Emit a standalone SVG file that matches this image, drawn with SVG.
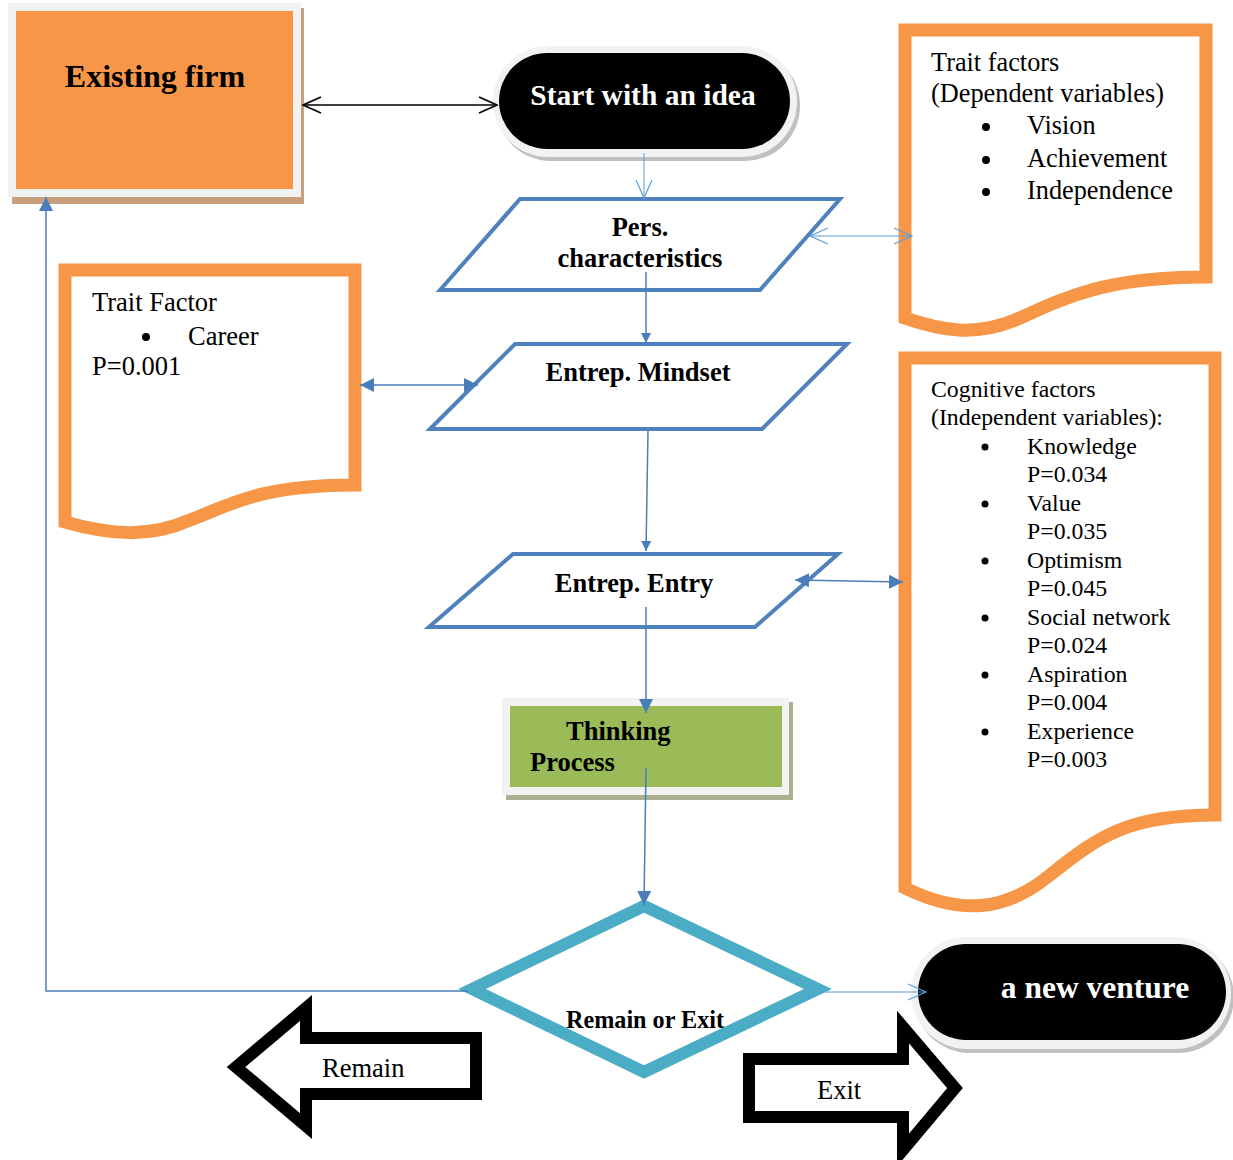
<svg xmlns="http://www.w3.org/2000/svg" width="1233" height="1160" viewBox="0 0 1233 1160">
<style>
.t{font-family:"Liberation Serif","Times New Roman",serif;fill:#000}
.b{font-weight:bold}
.w{fill:#fff}
.doc{fill:#fff;stroke:#f79646;stroke-width:13;stroke-linejoin:miter}
.para{fill:#fff;stroke:#4f81bd;stroke-width:4}
.c1{fill:none;stroke:#4a7ebb;stroke-width:1.5}
.c2{fill:none;stroke:#5b9bd5;stroke-width:1}
.c3{fill:none;stroke:#000;stroke-width:1.5}
.blk{fill:#fff;stroke:#000;stroke-width:12;stroke-linejoin:miter}
</style>
<defs>
<marker id="tri" viewBox="0 0 10 10" refX="10" refY="5" markerWidth="10" markerHeight="10" markerUnits="userSpaceOnUse" orient="auto-start-reverse"><path d="M0,0 L10,5 L0,10 Z" fill="#4a7ebb"/></marker>
<marker id="tri2" viewBox="0 0 10 10" refX="10" refY="5" markerWidth="14" markerHeight="14" markerUnits="userSpaceOnUse" orient="auto-start-reverse"><path d="M0,0 L10,5 L0,10 Z" fill="#4a7ebb"/></marker>
<marker id="open" viewBox="0 0 20 20" refX="19" refY="10" markerWidth="20" markerHeight="20" markerUnits="userSpaceOnUse" orient="auto-start-reverse"><path d="M1,2 L19,10 L1,18" fill="none" stroke="#5b9bd5" stroke-width="1.2"/></marker>
<marker id="openk" viewBox="0 0 20 20" refX="19" refY="10" markerWidth="20" markerHeight="20" markerUnits="userSpaceOnUse" orient="auto-start-reverse"><path d="M1,2 L19,10 L1,18" fill="none" stroke="#000" stroke-width="1.6"/></marker>
</defs>

<g id="existing-firm">
<rect x="12" y="8" width="292" height="196" fill="#c9a07e"/>
<rect x="8" y="3" width="293" height="194" fill="#f2f2f2"/>
<rect x="16" y="11" width="277" height="178" fill="#f79646"/>
<text class="t b" x="155" y="87" font-size="32" text-anchor="middle">Existing firm</text>
</g>

<g id="start">
<rect x="496" y="50" width="304" height="111" rx="55" fill="#c0c0c0"/>
<rect x="493" y="46" width="304" height="111" rx="55" fill="#f2f2f2"/>
<rect x="499" y="53" width="291" height="96" rx="48" fill="#000"/>
<text class="t b w" x="643" y="105" font-size="29.5" text-anchor="middle">Start with an idea</text>
</g>

<g id="pers">
<polygon class="para" points="440,290 520,199 840,199 760,290"/>
<text class="t b" x="640" y="236" font-size="26.5" text-anchor="middle">Pers.</text>
<text class="t b" x="640" y="267" font-size="26.5" text-anchor="middle">characteristics</text>
</g>

<g id="trait-factors">
<path class="doc" d="M905,30 L1206,30 L1206,277 C1110,277 1070,295 1020,318 C975,338 940,330 905,318 Z"/>
<text class="t" x="931" y="71" font-size="26.3">Trait factors</text>
<text class="t" x="931" y="102" font-size="26.3">(Dependent variables)</text>
<circle cx="986" cy="127" r="4"/>
<text class="t" x="1027" y="134" font-size="26.3">Vision</text>
<circle cx="986" cy="160" r="4"/>
<text class="t" x="1027" y="167" font-size="26.3">Achievement</text>
<circle cx="986" cy="192" r="4"/>
<text class="t" x="1027" y="199" font-size="26.3">Independence</text>
</g>

<g id="trait-factor">
<path class="doc" d="M65,270 L355,270 L355,485 C260,485 230,505 190,520 C150,538 110,535 65,522 Z"/>
<text class="t" x="92" y="311" font-size="26.5">Trait Factor</text>
<circle cx="146" cy="337" r="4"/>
<text class="t" x="188" y="345" font-size="26.5">Career</text>
<text class="t" x="92" y="375" font-size="26.5">P=0.001</text>
</g>

<g id="mindset">
<polygon class="para" points="430,429 515,344 847,344 762,429"/>
<text class="t b" x="638" y="381" font-size="26.5" text-anchor="middle">Entrep. Mindset</text>
</g>

<g id="entry">
<polygon class="para" points="429,627 513,554 838,554 755,627"/>
<text class="t b" x="634" y="592" font-size="26.5" text-anchor="middle">Entrep. Entry</text>
</g>

<g id="cognitive-factors">
<path class="doc" d="M905,358 L1215,358 L1215,815 C1130,815 1100,835 1050,875 C1005,912 960,915 905,888 Z"/>
<text class="t" x="931" y="397" font-size="23.8">Cognitive factors</text>
<text class="t" x="931" y="425" font-size="23.8">(Independent variables):</text>
<circle cx="985" cy="447" r="3.5"/>
<text class="t" x="1027" y="454" font-size="23.8">Knowledge</text>
<text class="t" x="1027" y="482" font-size="23.8">P=0.034</text>
<circle cx="985" cy="504" r="3.5"/>
<text class="t" x="1027" y="511" font-size="23.8">Value</text>
<text class="t" x="1027" y="539" font-size="23.8">P=0.035</text>
<circle cx="985" cy="561" r="3.5"/>
<text class="t" x="1027" y="568" font-size="23.8">Optimism</text>
<text class="t" x="1027" y="596" font-size="23.8">P=0.045</text>
<circle cx="985" cy="618" r="3.5"/>
<text class="t" x="1027" y="625" font-size="23.8">Social network</text>
<text class="t" x="1027" y="653" font-size="23.8">P=0.024</text>
<circle cx="985" cy="675" r="3.5"/>
<text class="t" x="1027" y="682" font-size="23.8">Aspiration</text>
<text class="t" x="1027" y="710" font-size="23.8">P=0.004</text>
<circle cx="985" cy="732" r="3.5"/>
<text class="t" x="1027" y="739" font-size="23.8">Experience</text>
<text class="t" x="1027" y="767" font-size="23.8">P=0.003</text>
</g>

<g id="thinking">
<rect x="506" y="702" width="287" height="98" fill="#a8b090"/>
<rect x="502" y="698" width="287" height="97" fill="#f2f2f2"/>
<rect x="510" y="706" width="272" height="81" fill="#9bbb59"/>
<text class="t b" x="566" y="740" font-size="26.5">Thinking</text>
<text class="t b" x="530" y="771" font-size="26.5">Process</text>
</g>

<g id="decision">
<polygon points="644,906 818,989 644,1072 472,989" fill="#fff" stroke="#4bacc6" stroke-width="12"/>
<text class="t b" x="645" y="1028" font-size="24.2" text-anchor="middle">Remain or Exit</text>
</g>

<g id="new-venture">
<rect x="914" y="941" width="320" height="112" rx="56" fill="#c0c0c0"/>
<rect x="911" y="937" width="320" height="112" rx="56" fill="#f2f2f2"/>
<rect x="918" y="944" width="308" height="96" rx="48" fill="#000"/>
<text class="t b w" x="1095" y="998" font-size="31.5" text-anchor="middle">a new venture</text>
</g>

<g id="remain">
<path class="blk" d="M236,1067 L306,1008 L306,1038 L476,1038 L476,1094 L306,1094 L306,1126 Z"/>
<text class="t" x="322" y="1077" font-size="26.5">Remain</text>
</g>

<g id="exit">
<path class="blk" d="M749,1059 L903,1059 L903,1027 L955,1088 L903,1150 L903,1117 L749,1117 Z"/>
<text class="t" x="817" y="1099" font-size="26.5">Exit</text>
</g>

<g id="connectors">
<line class="c3" x1="303" y1="105" x2="497" y2="105" marker-start="url(#openk)" marker-end="url(#openk)"/>
<line class="c2" x1="644" y1="153" x2="644" y2="198" marker-end="url(#open)"/>
<line class="c2" x1="810" y1="236" x2="912" y2="236" marker-start="url(#open)" marker-end="url(#open)"/>
<line class="c1" x1="646" y1="272" x2="646" y2="343" marker-end="url(#tri)"/>
<line class="c1" x1="360" y1="385" x2="478" y2="385" marker-start="url(#tri2)" marker-end="url(#tri2)"/>
<line class="c1" x1="648" y1="431" x2="646" y2="551" marker-end="url(#tri)"/>
<line class="c1" x1="795" y1="580" x2="903" y2="582" marker-start="url(#tri2)" marker-end="url(#tri2)"/>
<line class="c1" x1="646" y1="607" x2="646" y2="713" marker-end="url(#tri2)"/>
<line class="c1" x1="646" y1="768" x2="644" y2="905" marker-end="url(#tri2)"/>
<polyline class="c1" points="468,991 46,991 46,197" marker-end="url(#tri2)"/>
<line class="c2" x1="822" y1="992" x2="926" y2="992" marker-end="url(#open)"/>
</g>
</svg>
